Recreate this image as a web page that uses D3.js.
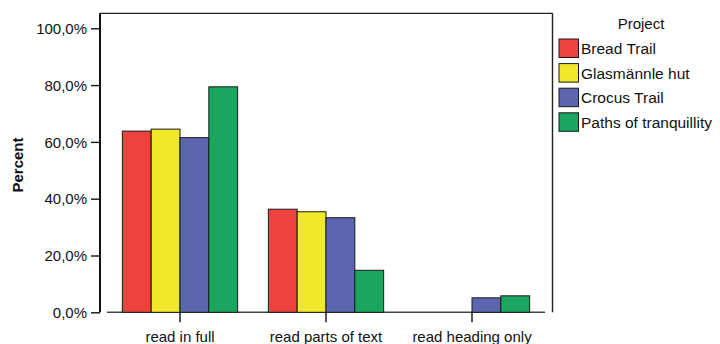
<!DOCTYPE html>
<html>
<head>
<meta charset="utf-8">
<script src="https://cdn.jsdelivr.net/npm/d3@7"></script>
<style>
  html, body { margin: 0; padding: 0; background: #fff; }
  svg { display: block; font-family: "Liberation Sans", Arial, Helvetica, sans-serif; }
</style>
</head>
<body>
<svg id="chart" width="720" height="344"></svg>
<script>
const categories = ["read in full", "read parts of text", "read heading only"];
const seriesNames = ["Bread Trail", "Glasmännle hut", "Crocus Trail", "Paths of tranquillity"];
const breadTrail = [63.8, 36.3, 0];
const glasmannleHut = [64.5, 35.4, 0];
const crocusTrail = [61.5, 33.3, 5.1];
const pathsOfTranquillity = [79.4, 14.8, 5.8];
const yTicks = [0, 20, 40, 60, 80, 100];
const colors = ["#ef413d", "#f0e92a", "#5b66ae", "#1aa65e"];

const seriesValues = [breadTrail, glasmannleHut, crocusTrail, pathsOfTranquillity];

const svg = d3.select("#chart");
const frame = { left: 100, right: 552.5, top: 13.3, bottom: 312.3 };

const y = d3.scaleLinear().domain([0, 100]).range([312.3, 28.3]);
const x0 = d3.scaleBand().domain(categories).range([107, 545]).padding(0);
const groupW = 115.3;
const x1 = d3.scaleBand().domain(seriesNames)
  .range([(x0.bandwidth() - groupW) / 2, (x0.bandwidth() + groupW) / 2]).padding(0);

// Frame top and right
svg.append("line").attr("x1", frame.left).attr("x2", frame.right)
  .attr("y1", frame.top).attr("y2", frame.top)
  .attr("stroke", "#222").attr("stroke-width", 1.2);
svg.append("line").attr("x1", frame.right).attr("x2", frame.right)
  .attr("y1", frame.top).attr("y2", frame.bottom)
  .attr("stroke", "#222").attr("stroke-width", 1.4);

// Baseline segments per category
svg.append("g").selectAll("line").data(categories).join("line")
  .attr("x1", d => x0(d)).attr("x2", d => x0(d) + x0.bandwidth())
  .attr("y1", y(0)).attr("y2", y(0))
  .attr("stroke", "#444").attr("stroke-width", 1.4);

// Bars
const groups = svg.append("g").selectAll("g").data(categories).join("g")
  .attr("transform", d => `translate(${x0(d)},0)`);
groups.selectAll("rect")
  .data((c, ci) => seriesNames.map((s, si) => ({ s, si, v: seriesValues[si][ci] })).filter(d => d.v > 0))
  .join("rect")
  .attr("x", d => x1(d.s))
  .attr("width", x1.bandwidth())
  .attr("y", d => y(d.v))
  .attr("height", d => y(0) - y(d.v))
  .attr("fill", d => colors[d.si])
  .attr("stroke", "#1a1a1a").attr("stroke-width", 1);

// Y axis
const yAxis = d3.axisLeft(y).tickValues(yTicks).tickSize(9).tickPadding(4)
  .tickFormat(d => d.toFixed(1).replace(".", ",") + "%");
const gy = svg.append("g").attr("transform", `translate(${frame.left},0)`).call(yAxis);
gy.select(".domain").remove();
gy.selectAll(".tick line").attr("stroke", "#111").attr("stroke-width", 1.4);
gy.selectAll(".tick text").attr("fill", "#111").style("font-size", "15px").attr("dy", "0.35em");
svg.append("line").attr("x1", frame.left).attr("x2", frame.left)
  .attr("y1", frame.top).attr("y2", frame.bottom)
  .attr("stroke", "#111").attr("stroke-width", 2);

// X axis
const xAxis = d3.axisBottom(x0).tickSize(10).tickPadding(9);
const gx = svg.append("g").attr("transform", `translate(0,${y(0)})`).call(xAxis);
gx.select(".domain").remove();
gx.selectAll(".tick line").attr("stroke", "#111").attr("stroke-width", 1.4);
gx.selectAll(".tick text").attr("fill", "#111").style("font-size", "15px").attr("dy", "0.71em");

// Y label
svg.append("text")
  .attr("transform", `translate(23,165) rotate(-90)`)
  .attr("text-anchor", "middle")
  .style("font-size", "15px").style("font-weight", "bold").attr("fill", "#111")
  .text("Percent");

// Legend
const lg = svg.append("g");
lg.append("text").attr("x", 641).attr("y", 29).attr("text-anchor", "middle")
  .style("font-size", "15px").attr("fill", "#111").text("Project");
const item = lg.selectAll("g.item").data(seriesNames).join("g").attr("class", "item")
  .attr("transform", (d, i) => `translate(559,${39 + i * 24.6})`);
item.append("rect").attr("width", 19.5).attr("height", 18.5)
  .attr("fill", (d, i) => colors[i]).attr("stroke", "#1a1a1a").attr("stroke-width", 1);
item.append("text").attr("x", 22).attr("y", 9.5).attr("dy", "0.35em")
  .style("font-size", "15.5px").attr("fill", "#111").text(d => d);
</script>
</body>
</html>
